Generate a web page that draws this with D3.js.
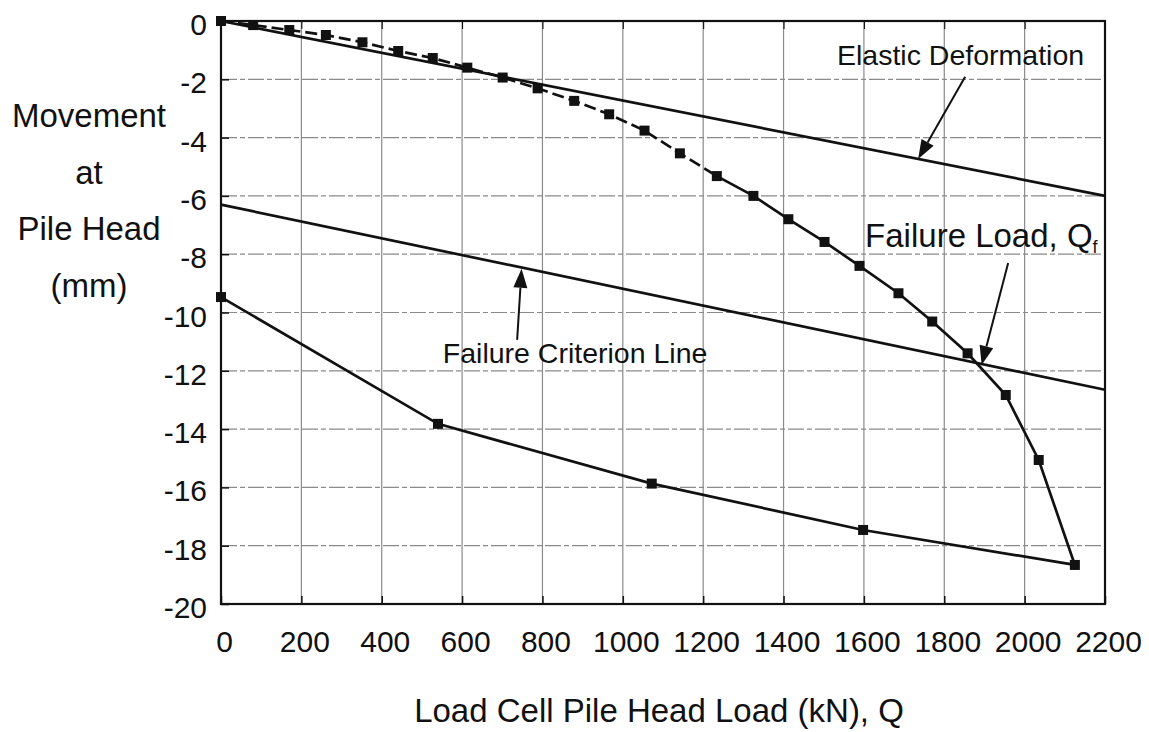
<!DOCTYPE html>
<html>
<head>
<meta charset="utf-8" />
<title>Pile load test</title>
<style>
html, body {
    margin: 0px;
    padding: 0px;
    background: #fff;
}
svg text {
    font-family: "Liberation Sans", Arial, sans-serif;
    fill: #111;
}
</style>
</head>
<body>
<svg id="chart" width="1149" height="732"></svg>

<script src="https://cdnjs.cloudflare.com/ajax/libs/d3/7.8.5/d3.min.js"></script>
<script>
// load (kN) / movement (mm)
var loadQ    = [0, 80, 170, 261, 352, 441, 527, 613, 701, 788, 879, 966, 1054, 1142,
                1234, 1325, 1412, 1502, 1589, 1686, 1770, 1858, 1953, 2035, 2125]
var loadMove = [0, -0.14, -0.31, -0.48, -0.73, -1.03, -1.27, -1.60, -1.94, -2.31, -2.74, -3.20, -3.76, -4.54,
                -5.32, -6.00, -6.80, -7.58, -8.40, -9.34, -10.31, -11.40, -12.83, -15.06, -18.66]
var dashedUpTo = 1234   // first part of loading curve is dashed

var unloadQ    = [2125, 1598, 1072, 540, 0]
var unloadMove = [-18.66, -17.46, -15.87, -13.82, -9.47]

var elasticQ    = [0, 2200]
var elasticMove = [0, -6.0]

var criterionQ    = [0, 2200]
var criterionMove = [-6.3, -12.65]

var xTicks = d3.range(0, 2201, 200)
var yTicks = d3.range(0, -21, -2)
var yTitle = ["Movement", "at", "Pile Head", "(mm)"]
var xTitle = "Load Cell Pile Head Load (kN), Q"

!(function(){
    "use strict"

    var svg = d3.select("#chart")
    var left = 221, top = 21, right = 1105, bottom = 604

    var x = d3.scaleLinear().domain([0, 2200]).range([left, right])
    var y = d3.scaleLinear().domain([-20, 0]).range([bottom, top])

    // grid
    var grid = svg.append("g")
    grid.selectAll("line.v").data(xTicks.slice(1, -1)).enter().append("line")
        .attr("x1", d => x(d)).attr("x2", d => x(d))
        .attr("y1", top).attr("y2", bottom)
        .attr("stroke", "#8a8a8a").attr("stroke-width", 1.2)
    grid.selectAll("line.h").data(yTicks.slice(1, -1)).enter().append("line")
        .attr("x1", left).attr("x2", right)
        .attr("y1", d => y(d)).attr("y2", d => y(d))
        .attr("stroke", "#8a8a8a").attr("stroke-width", 1.2)
        .attr("stroke-dasharray", "16 3 5 3")

    // axes, ticks pointing inward
    var xAxis = d3.axisBottom(x).tickValues(xTicks).tickSize(-8).tickPadding(27).tickFormat(d3.format("d"))
    var yAxis = d3.axisLeft(y).tickValues(yTicks).tickSize(-8).tickPadding(14).tickFormat(d => d == 0 ? "0" : d)
    var gx = svg.append("g").attr("transform", "translate(0," + bottom + ")").call(xAxis)
    var gy = svg.append("g").attr("transform", "translate(" + left + ",0)").call(yAxis)
    svg.append("g").attr("transform", "translate(0," + top + ")")
        .call(d3.axisTop(x).tickValues(xTicks).tickSize(-8).tickFormat(""))
    ;[gx, gy].forEach(function(g) {
        g.selectAll(".tick line").attr("stroke", "#111").attr("stroke-width", 1.5)
        g.selectAll("text").attr("font-size", 30).attr("font-family", "Liberation Sans").attr("fill", "#111")
    })
    svg.selectAll(".domain").remove()
    gx.selectAll("text").attr("dx", 3)
    gy.selectAll("text").attr("dy", "0.45em")

    // frame
    svg.append("rect")
        .attr("x", left).attr("y", top)
        .attr("width", right - left).attr("height", bottom - top)
        .attr("fill", "none").attr("stroke", "#111").attr("stroke-width", 2.2)

    var line = d3.line().x(d => x(d[0])).y(d => y(d[1]))

    function drawLine(qs, ms, dash) {
        svg.append("path")
            .datum(d3.zip(qs, ms))
            .attr("d", line)
            .attr("fill", "none")
            .attr("stroke", "#111")
            .attr("stroke-width", 2.7)
            .attr("stroke-dasharray", dash || null)
    }

    drawLine(elasticQ, elasticMove)
    drawLine(criterionQ, criterionMove)

    var loadPts = d3.zip(loadQ, loadMove)
    var early = loadPts.filter(d => d[0] <= dashedUpTo)
    var late = loadPts.filter(d => d[0] >= dashedUpTo)
    drawLine(early.map(d => d[0]), early.map(d => d[1]), "12 5")
    drawLine(late.map(d => d[0]), late.map(d => d[1]))
    drawLine(unloadQ, unloadMove)

    // markers
    var s = 10
    svg.append("g").selectAll("rect")
        .data(loadPts.concat(d3.zip(unloadQ, unloadMove).slice(1)))
        .enter().append("rect")
        .attr("x", d => x(d[0]) - s / 2)
        .attr("y", d => y(d[1]) - s / 2)
        .attr("width", s).attr("height", s)
        .attr("fill", "#111")

    // annotations with arrows (data units)
    function arrow(q0, m0, q1, m1) {
        var x0 = x(q0), y0 = y(m0), x1 = x(q1), y1 = y(m1)
        var dx = x1 - x0, dy = y1 - y0, len = Math.sqrt(dx * dx + dy * dy)
        var ux = dx / len, uy = dy / len, L = 19, W = 7
        var bx = x1 - ux * L, by = y1 - uy * L
        svg.append("line")
            .attr("x1", x0).attr("y1", y0).attr("x2", bx).attr("y2", by)
            .attr("stroke", "#111").attr("stroke-width", 2)
        svg.append("path")
            .attr("d", "M" + x1 + "," + y1 +
                       "L" + (bx - uy * W) + "," + (by + ux * W) +
                       "L" + (bx + uy * W) + "," + (by - ux * W) + "Z")
            .attr("fill", "#111")
    }

    svg.append("text").attr("x", x(1533)).attr("y", y(-1.51))
        .attr("font-size", 28.5).text("Elastic Deformation")
    arrow(1852, -1.91, 1735, -4.73)

    svg.append("text").attr("x", x(552)).attr("y", y(-11.73))
        .attr("font-size", 28.5).text("Failure Criterion Line")
    arrow(737, -10.94, 748, -8.50)

    var fl = svg.append("text").attr("x", x(1603)).attr("y", y(-7.74))
        .attr("font-size", 33)
    fl.append("tspan").text("Failure Load, Q")
    fl.append("tspan").attr("font-size", 18).attr("dy", 6).text("f")
    arrow(1959, -8.30, 1893, -11.80)

    // axis titles
    svg.append("g").selectAll("text").data(yTitle).enter().append("text")
        .attr("x", 89)
        .attr("y", (d, i) => 127 + i * 56.5)
        .attr("text-anchor", "middle")
        .attr("font-size", 33)
        .text(d => d)

    svg.append("text")
        .attr("x", (left + right) / 2 - 4).attr("y", 722)
        .attr("text-anchor", "middle")
        .attr("font-size", 33)
        .text(xTitle)

}());
</script>
</body>
</html>
